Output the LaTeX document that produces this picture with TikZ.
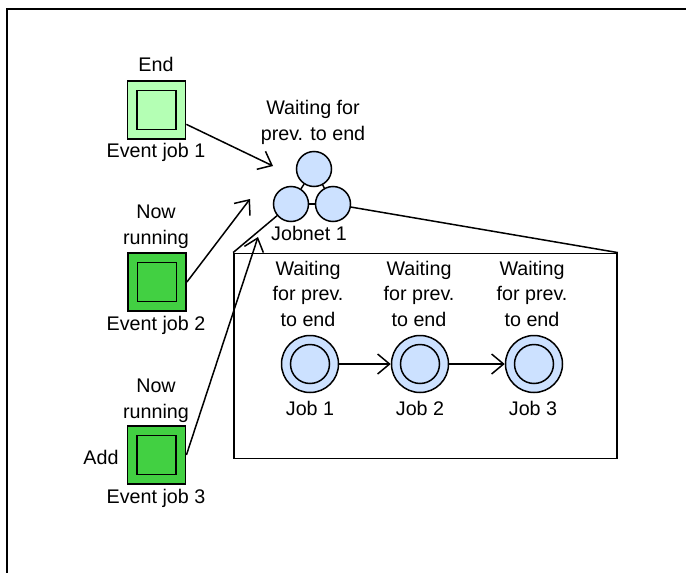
\documentclass[tikz,border=0pt]{standalone}
\usepackage{fontspec}
\setmainfont{Liberation Sans}
\usetikzlibrary{arrows.meta}
\definecolor{lgreen}{RGB}{180,255,180}
\definecolor{dgreen}{RGB}{66,208,66}
\definecolor{lblue}{RGB}{204,225,255}
\begin{document}
\begin{tikzpicture}[x=1pt,y=-1pt,
  lbl/.style={font=\fontsize{19.7}{25.2}\selectfont, align=center, inner sep=0pt, anchor=base},
  evbox/.style={draw, line width=1.8pt, minimum size=58pt, inner sep=0pt},
  evin/.style={draw, line width=1.8pt, minimum size=39pt, inner sep=0pt},
  netc/.style={circle, draw, line width=1.5pt, fill=lblue, minimum size=35pt, inner sep=0pt},
  jobc/.style={circle, draw, line width=1.5pt, fill=lblue, minimum size=57pt, inner sep=0pt},
  jobin/.style={circle, draw, line width=1.5pt, minimum size=39pt, inner sep=0pt},
  conn/.style={line width=1.5pt},
  arr/.style={line width=1.5pt, -{Straight Barb[length=12pt,width=20pt,line width=1.5pt]}}]
\useasboundingbox (0,0) rectangle (686,573);
\draw[line width=2pt] (7,573) -- (7,9) -- (686,9);

% event jobs
\node[evbox, fill=lgreen] (e1) at (156.5,110) {};
\node[evin, fill=lgreen] (e1i) at (e1.center) {};
\node[evbox, fill=dgreen] (e2) at (157,282) {};
\node[evin, fill=dgreen] (e2i) at (e2.center) {};
\node[evbox, fill=dgreen] (e3) at (156.5,455) {};
\node[evin, fill=dgreen] (e3i) at (e3.center) {};

\node[lbl] (te1) at (156,71) {End};
\node[lbl] (le1) at (156,157) {Event job 1};
\node[lbl] (te2) at (156,244) {Now\\running};
\node[lbl] (le2) at (156,330) {Event job 2};
\node[lbl] (te3) at (156,418) {Now\\running};
\node[lbl] (add) at (101,464) {Add};
\node[lbl] (le3) at (156,503) {Event job 3};

% jobnet
\node[netc] (jt) at (314,169) {};
\node[netc] (jl) at (291,204) {};
\node[netc] (jr) at (333,204) {};
\draw[conn] (jt) -- (jl);
\draw[conn] (jt) -- (jr);
\draw[conn] (jl) -- (jr);
\node[lbl] (tnet) at (313,140) {Waiting for\\prev. to end};
\node[lbl] (lnet) at (309,240) {Jobnet 1};

% arrow targets
\coordinate (t1) at (273,166);
\coordinate (t2) at (250,199);
\coordinate (t3) at (258,237);

% big box
\node[draw, line width=1.8pt, minimum width=383pt, minimum height=205pt, inner sep=0pt] (big) at (425.5,356) {};
\draw[conn] (jl) -- (big.north west);
\draw[conn] (jr) -- (big.north east);

\draw[arr] (e1) -- (t1);
\draw[arr] (e2.east) -- (t2);
\draw[arr] (e3.east) -- (t3);

% jobs
\node[jobc] (j1) at (310,364) {};
\node[jobin] (j1i) at (j1.center) {};
\node[jobc] (j2) at (420,364) {};
\node[jobin] (j2i) at (j2.center) {};
\node[jobc] (j3) at (534,364) {};
\node[jobin] (j3i) at (j3.center) {};
\draw[arr] (j1) -- (j2);
\draw[arr] (j2) -- (j3);

\node[lbl] (w1) at (308,326) {Waiting\\for prev.\\to end};
\node[lbl] (w2) at (419,326) {Waiting\\for prev.\\to end};
\node[lbl] (w3) at (532,326) {Waiting\\for prev.\\to end};
\node[lbl] (n1) at (310,415) {Job 1};
\node[lbl] (n2) at (420,415) {Job 2};
\node[lbl] (n3) at (533,415) {Job 3};
\end{tikzpicture}
\end{document}
